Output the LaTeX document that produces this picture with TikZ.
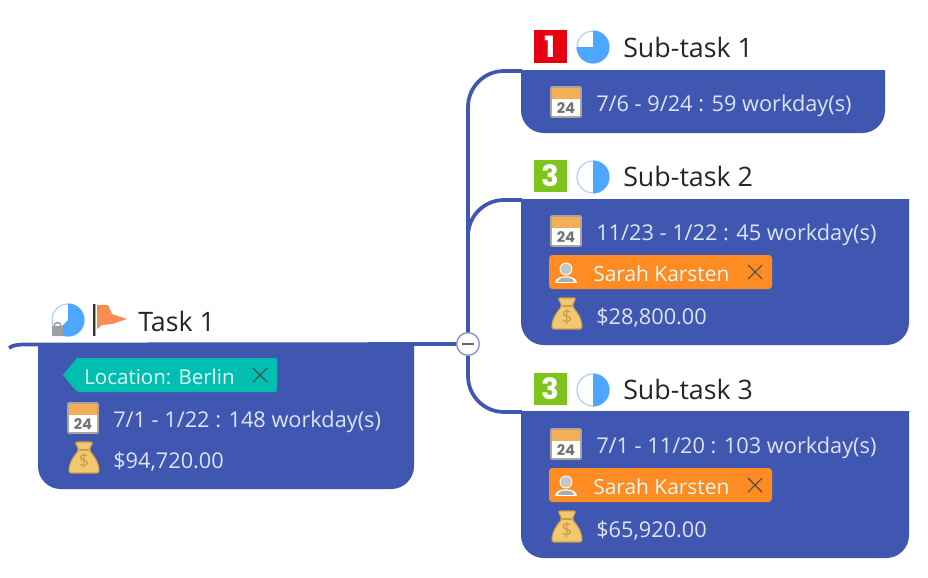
\documentclass[tikz,border=0pt]{standalone}
\usepackage{fontspec}
\setmainfont{Open Sans}
\newfontfamily\numfont{Poppins}
\usetikzlibrary{positioning}

\definecolor{panelblue}{HTML}{4057B2}
\definecolor{detailtext}{HTML}{DCE3F5}
\definecolor{pieblue}{HTML}{4DA6FF}
\definecolor{pieedge}{HTML}{A5CBFA}
\definecolor{tagteal}{HTML}{00BFB0}
\definecolor{tagorange}{HTML}{FF8C22}
\definecolor{bagfill}{HTML}{F2C873}
\definecolor{bagedge}{HTML}{C99C48}
\definecolor{flagorange}{HTML}{F98C50}
\definecolor{calband}{HTML}{F5AE58}
\definecolor{caledge}{HTML}{A8A59C}
\definecolor{numgreen}{HTML}{7FC41C}
\definecolor{numred}{HTML}{E60012}

% top left corner of each icon is given
\newcommand{\calicon}[3]{
    \begin{scope}[shift={(#2,#3)}]
        \draw[fill=white,draw=caledge,line width=1.2pt,rounded corners=.8pt] (1,1) rectangle (31,31);
        \fill[calband] (1.8,1.8) rectangle (30.2,13);
        \node (#1) [numtext,text=gray!90!black,font=\numfont\bfseries\fontsize{11}{12}\selectfont] at (16,22) {24};
    \end{scope}
}
\newcommand{\bagicon}[3]{
    \begin{scope}[shift={(#2,#3)}]
        \draw[fill=bagfill,draw=bagedge,line width=.8pt,rounded corners=1.5pt]
            (7,1) -- (25,1) -- (21,9) .. controls (27,16) and (31,22) .. (31,32)
            -- (1,32) .. controls (1,22) and (5,16) .. (11,9) -- cycle;
        \draw[bagedge,line width=.8pt] (11,9) -- (21,9);
        \node (#1) [numtext,text=bagedge,font=\fontsize{14}{15}\selectfont] at (16,20) {\$};
    \end{scope}
}
\newcommand{\pieicon}[4]{
    \node (#1) [circle,draw=pieedge,fill=white,line width=.8pt,minimum size=24pt,inner sep=0pt] at (#2,#3) {};
    \fill[pieblue] (#2,#3) -- ++(-90:16.5) arc (-90:#4:16.5) -- cycle;
}
\newcommand{\numbox}[5]{
    \node (#1) [minimum size=24.5pt,inner sep=0pt,fill=#5,text=white,font=\numfont\bfseries\fontsize{22}{24}\selectfont] at (#2,#3) {#4};
}
\newcommand{\closemark}[2]{
    \draw[black!70,line width=.8pt] (#1-7,#2-7) -- (#1+7,#2+7) (#1-7,#2+7) -- (#1+7,#2-7);
}
\newcommand{\personicon}[3]{
    \begin{scope}[shift={(#2,#3)}]
        \fill[white] (-11,10) .. controls (-11,1) and (11,1) .. (11,10) -- cycle;
        \fill[gray!65] (-8,8.5) .. controls (-8,3) and (8,3) .. (8,8.5) -- cycle;
        \node (#1) [circle,draw=white,fill=gray!45,line width=.7pt,minimum size=9pt,inner sep=0pt] at (0,-4) {};
    \end{scope}
}
\newcommand{\panelbox}[4]{
    \fill[panelblue] (#1,#2) -- (#3,#2) [rounded corners=17pt] -- (#3,#4) -- (#1,#4) [sharp corners] -- cycle;
}

\begin{document}
\begin{tikzpicture}[
        x=.75pt,
        y=-.75pt,
        branch/.style={draw=panelblue,line width=2.8pt},
        titletext/.style={anchor=base west,inner sep=0pt,text=black!85,font=\fontsize{20.1}{22}\selectfont},
        detailrow/.style={anchor=base west,inner sep=0pt,text=detailtext,font=\fontsize{16.3}{18}\selectfont},
        tagtext/.style={anchor=base west,inner sep=0pt,text=white!90!tagteal,font=\fontsize{15.7}{18}\selectfont},
        numtext/.style={inner sep=0pt}
    ]

    \useasboundingbox (0,0) rectangle (928,578);

    % panels
    \panelbox{38}{343}{414}{489}
    \panelbox{521}{70}{885}{133}
    \panelbox{521}{199}{909}{345}
    \panelbox{521}{411}{909}{558}

    % connectors
    \coordinate (rootend) at (9,348);
    \coordinate (sub1in) at (522,71);
    \coordinate (sub2in) at (522,200);
    \coordinate (sub3in) at (522,412);
    \node (collapse) [circle,draw=panelblue!65,fill=white,line width=1pt,minimum size=17pt,inner sep=0pt] at (468,344) {};
    \draw[branch] (rootend) .. controls (13,345) and (18,344.5) .. (26,344.5) -- (collapse);
    \draw[branch,rounded corners=27pt] (collapse) |- (sub1in);
    \draw[branch,rounded corners=27pt] (collapse) |- (sub2in);
    \draw[branch,rounded corners=27pt] (collapse) |- (sub3in);
    \draw[black!60,line width=.8pt] (462,344) -- (474,344);

    % task 1
    \pieicon{taskpie}{68}{320}{135}
    \fill[gray!75,rounded corners=.5pt] (52,326) rectangle (63,336);
    \draw[gray!75,line width=1.2pt] (54,326) arc (180:360:3.5);
    \draw[black!80,line width=1pt] (94,304) -- (94,336);
    \draw[flagorange,line width=1pt] (95.5,304) -- (95.5,336);
    \fill[flagorange] (97,305) -- (108,305) -- (112,314) -- (127,319) -- (112,324) -- (102,325) -- (97,329) -- cycle;
    \node (task) [titletext] at (138,331) {Task 1};

    \fill[tagteal,rounded corners=1.5pt] (77,358) -- (277,358) -- (277,392) -- (77,392) [sharp corners] -- (63,375) -- cycle;
    \node (location) [tagtext,font=\fontsize{15.4}{18}\selectfont] at (84,384) {Location: Berlin};
    \closemark{260}{375}
    \calicon{taskcal}{67}{402}
    \node (taskdate) [detailrow] at (113,427) {7/1 - 1/22 : 148 workday(s)};
    \bagicon{taskbag}{68}{441}
    \node (taskcost) [detailrow] at (113,468) {\$94,720.00};

    % sub-task 1
    \numbox{sub1num}{550.5}{46.5}{1}{numred}
    \pieicon{sub1pie}{593}{47}{180}
    \node (sub1) [titletext] at (623,57) {Sub-task 1};
    \calicon{sub1cal}{550}{86}
    \node (sub1date) [detailrow] at (596,111) {7/6 - 9/24 : 59 workday(s)};

    % sub-task 2
    \numbox{sub2num}{550.5}{176}{3}{numgreen}
    \pieicon{sub2pie}{593}{177}{90}
    \node (sub2) [titletext] at (623,186) {Sub-task 2};
    \calicon{sub2cal}{550}{215}
    \node (sub2date) [detailrow] at (596,240) {11/23 - 1/22 : 45 workday(s)};
    \fill[tagorange,rounded corners=2.5pt] (549,255) rectangle (772,289);
    \personicon{sub2person}{566}{273}
    \node (sub2name) [tagtext] at (593,281) {Sarah Karsten};
    \closemark{755}{272}
    \bagicon{sub2bag}{551}{297}
    \node (sub2cost) [detailrow] at (596,324) {\$28,800.00};

    % sub-task 3
    \numbox{sub3num}{550.5}{389}{3}{numgreen}
    \pieicon{sub3pie}{593}{390}{90}
    \node (sub3) [titletext] at (623,399) {Sub-task 3};
    \calicon{sub3cal}{550}{428}
    \node (sub3date) [detailrow] at (596,453) {7/1 - 11/20 : 103 workday(s)};
    \fill[tagorange,rounded corners=2.5pt] (549,468) rectangle (772,502);
    \personicon{sub3person}{566}{486}
    \node (sub3name) [tagtext] at (593,494) {Sarah Karsten};
    \closemark{755}{485}
    \bagicon{sub3bag}{551}{510}
    \node (sub3cost) [detailrow] at (596,537) {\$65,920.00};

\end{tikzpicture}
\end{document}
